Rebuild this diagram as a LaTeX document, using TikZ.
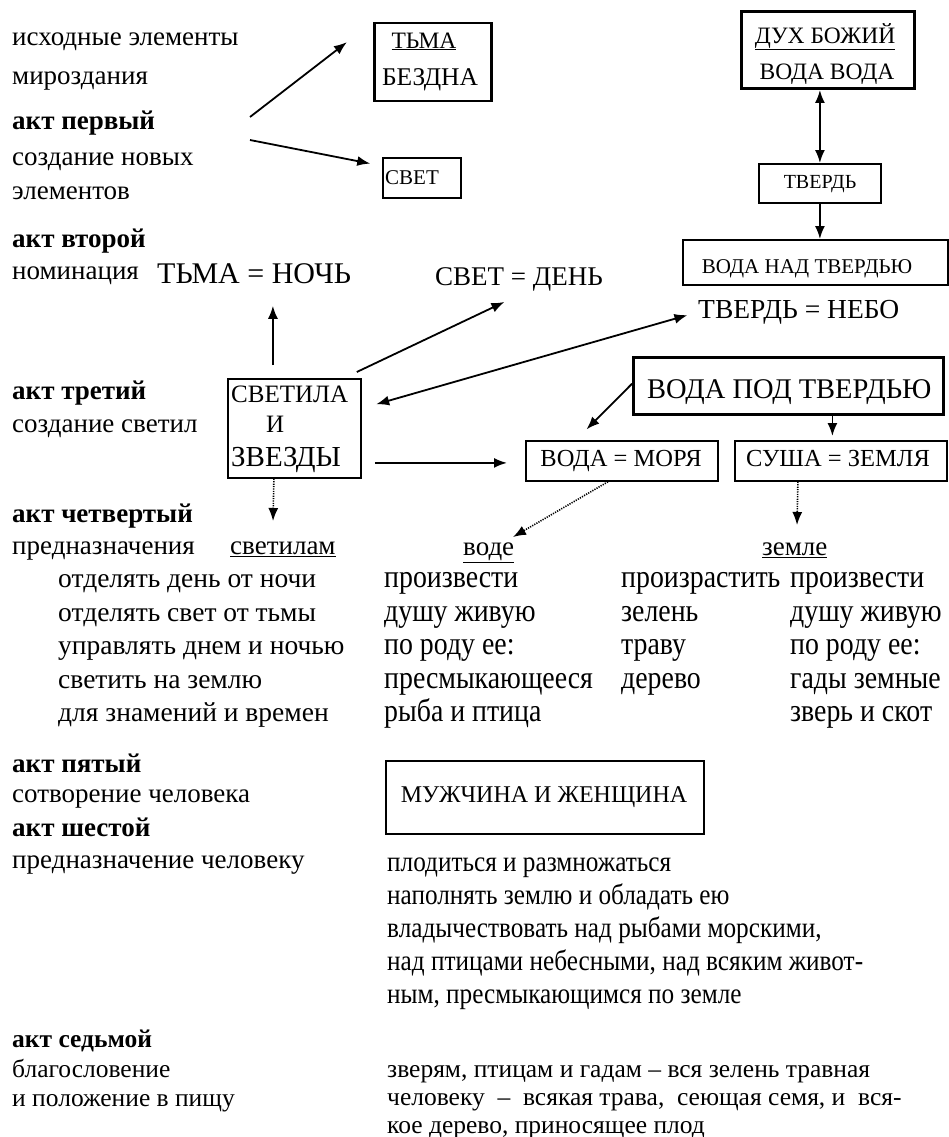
\documentclass[tikz,border=0pt]{standalone}
\usepackage{fontspec}
\setmainfont{Liberation Serif}
\newfontfamily\narrowB{Liberation Serif}[FakeStretch=0.87]
\usetikzlibrary{arrows.meta}
\begin{document}
\begin{tikzpicture}[x=1pt,y=-1pt,
  lab/.style={anchor=mid west, inner sep=0pt, font=\fontsize{27}{30}\selectfont},
  labb/.style={anchor=mid west, inner sep=0pt, font=\fontsize{27}{30}\selectfont\bfseries},
  lsl/.style={anchor=mid west, inner sep=0pt, font=\fontsize{27.5}{30}\selectfont},
  lst/.style={anchor=mid west, inner sep=0pt, font=\narrowB\fontsize{32}{34}\selectfont},
  par/.style={anchor=mid west, inner sep=0pt, font=\narrowB\fontsize{29}{31}\selectfont},
  parq/.style={anchor=mid west, inner sep=0pt, font=\fontsize{25.5}{28}\selectfont},
  parqb/.style={anchor=mid west, inner sep=0pt, font=\fontsize{25.5}{28}\selectfont\bfseries},
  ctext/.style={anchor=mid, inner sep=0pt},
  ctextw/.style={anchor=mid west, inner sep=0pt},
  fs/.style={font=\fontsize{#1}{#1}\selectfont},
  box/.style={draw, line width=1.8pt, inner sep=0pt, anchor=north west},
  arr/.style={line width=1.8pt, -{Latex[length=13pt,width=10pt]}},
  dbl/.style={line width=1.8pt, {Latex[length=13pt,width=10pt]}-{Latex[length=13pt,width=10pt]}},
  dotarr/.style={line width=1.6pt, dash pattern=on 1.2pt off 1.2pt, -{Latex[length=13pt,width=10pt]}}
]
\useasboundingbox (0,0) rectangle (949,1137);

% ---- left column labels
\node[lab]  (l1)  at (12,43)   {исходные элементы};
\node[lab]  (l2)  at (12,82)   {мироздания};
\node[labb] (l3)  at (12,127)  {акт первый};
\node[lab]  (l4)  at (12,163)  {создание новых};
\node[lab]  (l5)  at (12,197)  {элементов};
\node[labb] (l6)  at (12,245)  {акт второй};
\node[lab]  (l7)  at (12,277)  {номинация};
\node[labb] (l8)  at (12,397)  {акт третий};
\node[lab]  (l9)  at (12,430)  {создание светил};
\node[labb] (l10) at (12,520)  {акт четвертый};
\node[lab]  (l11) at (12,552)  {предназначения};
\node[labb] (l12) at (12,770)  {акт пятый};
\node[lab]  (l13) at (12,800)  {сотворение человека};
\node[labb] (l14) at (12,834)  {акт шестой};
\node[lab]  (l15) at (12,866)  {предназначение человеку};
\node[parqb] (l16) at (12,1045) {акт седьмой};
\node[parq]  (l17) at (12,1075) {благословение};
\node[parq]  (l18) at (12,1104) {и положение в пищу};

% ---- boxes, top
\node[box, line width=2.5pt, minimum width=117pt, minimum height=78pt] (tma) at (373,22) {};
\node[ctext, fs=23.5] (tmat) at (424,46) {\underline{ТЬМА}};
\node[ctext, fs=25.5] (bezd) at (430,83) {БЕЗДНА};

\node[box, minimum width=78pt, minimum height=40pt] (svet) at (382,157) {};
\node[ctextw, fs=21] (svett) at (385,182) {СВЕТ};

\node[box, line width=3pt, minimum width=173pt, minimum height=77pt] (duh) at (740,10) {};
\node[ctext, fs=23.5] (duht) at (825,41) {\underline{ДУХ БОЖИЙ}};
\node[ctext, fs=23.5] (vv) at (827,77) {ВОДА ВОДА};

\node[box, minimum width=122pt, minimum height=39pt] (tverd) at (758,163) {};
\node[ctext, fs=20] (tverdt) at (820,186) {ТВЕРДЬ};

\node[box, minimum width=265pt, minimum height=45pt] (vnad) at (682,239) {};
\node[ctext, fs=21] (vnadt) at (807,271) {ВОДА НАД ТВЕРДЬЮ};

% ---- naming
\node[ctextw, fs=30]   (tn)    at (157,281) {ТЬМА = НОЧЬ};
\node[ctextw, fs=27]   (sd)    at (435,283) {СВЕТ = ДЕНЬ};
\node[ctextw, fs=27.5] (tnebo) at (698,316) {ТВЕРДЬ = НЕБО};

% ---- luminaries
\node[box, minimum width=133pt, minimum height=99pt] (svetila) at (227,378) {};
\node[ctextw, fs=25] (svt1) at (231,400) {СВЕТИЛА};
\node[ctextw, fs=25] (svt2) at (266,430) {И};
\node[ctextw, fs=29] (svt3) at (231,464) {ЗВЕЗДЫ};

\node[box, line width=2.5pt, minimum width=310pt, minimum height=57pt] (vpod) at (632,356) {};
\node[ctextw, fs=28.5] (vpodt) at (647,396) {ВОДА ПОД ТВЕРДЬЮ};

\node[box, minimum width=192pt, minimum height=40pt] (more) at (525,440) {};
\node[ctext, fs=24.5] (moret) at (621,464) {ВОДА = МОРЯ};
\node[box, minimum width=212pt, minimum height=40pt] (susha) at (734,440) {};
\node[ctext, fs=24.5] (sushat) at (838,464) {СУША = ЗЕМЛЯ};

% ---- act four
\node[lab] (u1) at (230,552) {\underline{светилам}};
\node[lab] (u2) at (463,553) {\underline{воде}};
\node[lab] (u3) at (762,553) {\underline{земле}};

\node[lsl] (s1) at (58,585) {отделять день от ночи};
\node[lsl] (s2) at (58,619) {отделять свет от тьмы};
\node[lsl] (s3) at (58,652) {управлять днем и ночью};
\node[lsl] (s4) at (58,686) {светить на землю};
\node[lsl] (s5) at (58,719) {для знамений и времен};

\node[lst] (v1) at (384,585) {произвести};
\node[lst] (v2) at (384,619) {душу живую};
\node[lst] (v3) at (384,652) {по роду ее:};
\node[lst] (v4) at (384,686) {пресмыкающееся};
\node[lst] (v5) at (384,719) {рыба и птица};

\node[lst] (z1) at (621,585) {произрастить};
\node[lst] (z2) at (621,619) {зелень};
\node[lst] (z3) at (621,652) {траву};
\node[lst] (z4) at (621,686) {дерево};

\node[lst] (w1) at (790,585) {произвести};
\node[lst] (w2) at (790,619) {душу живую};
\node[lst] (w3) at (790,652) {по роду ее:};
\node[lst] (w4) at (790,686) {гады земные};
\node[lst] (w5) at (790,719) {зверь и скот};

% ---- man
\node[box, minimum width=318pt, minimum height=73pt] (muzh) at (385,760) {};
\node[ctext, fs=24] (muzht) at (544,800) {МУЖЧИНА И ЖЕНЩИНА};

\node[par] (p1) at (387,869)  {плодиться и размножаться};
\node[par] (p2) at (387,902)  {наполнять землю и обладать ею};
\node[par] (p3) at (387,935)  {владычествовать над рыбами морскими,};
\node[par] (p4) at (387,968)  {над птицами небесными, над всяким живот-};
\node[par] (p5) at (387,1001) {ным, пресмыкающимся по земле};

\node[parq] (q1) at (387,1075) {зверям, птицам и гадам – вся зелень травная};
\node[parq] (q2) at (387,1103) {человеку\ \ –\ \ всякая трава,\ \ сеющая семя, и\ \ вся-};
\node[parq] (q3) at (387,1131) {кое дерево, приносящее плод};

% ---- connectors
\coordinate (a1s) at (250,117);
\coordinate (a2s) at (250,140);
\draw[arr, shorten >=33pt] (a1s) -- (tma.north west);
\draw[arr, shorten >=12pt] (a2s) -- ([yshift=12pt]svet.west);

\draw[dbl] (tverd.north |- duh.south) -- (tverd.north);
\draw[arr] (tverd.south) -- (tverd.south |- vnad.north);

\draw[arr, shorten <=13pt, shorten >=22pt] ([xshift=-21.5pt]svetila.north) -- ([xshift=-21.5pt]svetila.north |- tn.south);
\draw[arr, shorten >=25pt] ([shift={(-5pt,6pt)}]svetila.north east) -- ([xshift=8pt]sd.south);
\draw[dbl, shorten <=11pt, shorten >=15pt] (tnebo.west) -- ([yshift=20pt]svetila.east);
\draw[arr, shorten <=13pt, shorten >=18pt] ([yshift=-2pt]svetila.east |- more.west) -- ([yshift=-2pt]more.west);

\draw[arr, shorten >=15pt] ([yshift=2pt]vpod.west) -- ([xshift=-46pt]more.north);
\draw[arr, shorten >=4pt] ([xshift=-8.5pt]susha.north |- vpod.south) -- ([xshift=-8.5pt]susha.north);

\coordinate (d1) at (273,521);
\coordinate (d2) at (513,537);
\coordinate (d3) at (797,525);
\draw[dotarr] ([xshift=-20.5pt]svetila.south) -- (d1);
\draw[dotarr] ([xshift=-14pt]more.south) -- (d2);
\draw[dotarr] ([xshift=-43pt]susha.south) -- (d3);
\end{tikzpicture}
\end{document}
